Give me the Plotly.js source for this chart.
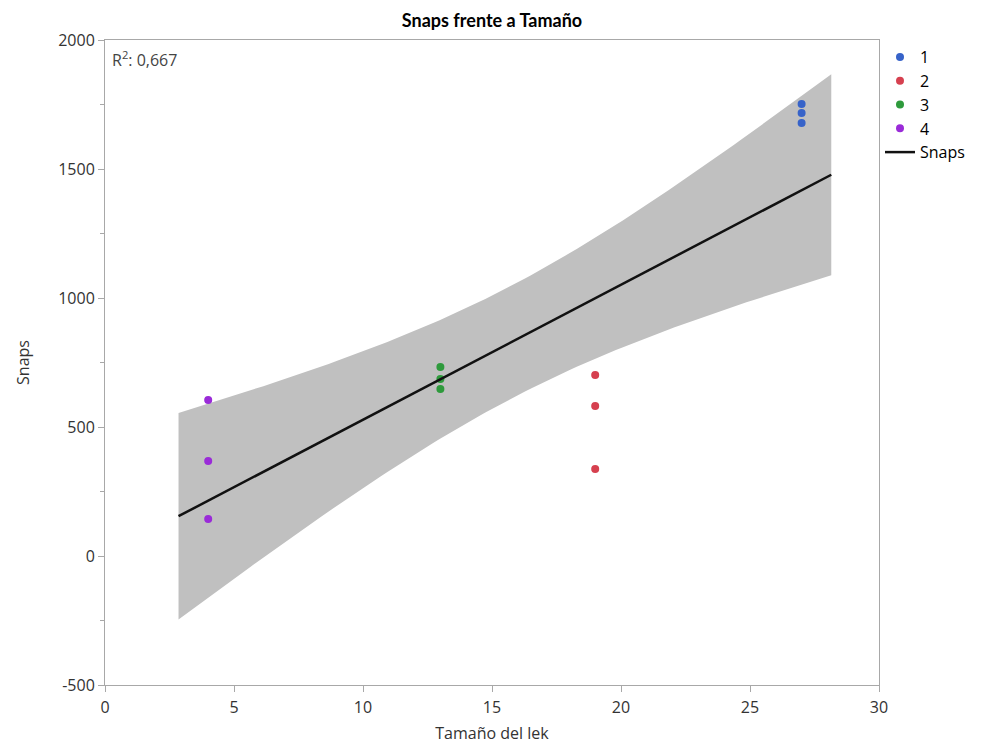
<!DOCTYPE html>
<html>
<head>
<meta charset="utf-8">
<script src="https://cdn.plot.ly/plotly-3.0.1.min.js"></script>
<style>html,body{margin:0;padding:0;background:#fff;}#chart{width:981px;height:744px;}</style>
</head>
<body>
<div id="chart"></div>
<script>
// Data
const groups = ["1", "2", "3", "4"];
const groupColors = ["#3763C9", "#D6404F", "#2E9A3C", "#9A2BD8"];
const tamano = [
  [27, 27, 27],
  [19, 19, 19],
  [13, 13, 13],
  [4, 4, 4]
];
const snaps = [
  [1752, 1717, 1678],
  [702, 581, 337],
  [733, 686, 647],
  [605, 368, 143]
];
const yTickVals = [-500, 0, 500, 1000, 1500, 2000];
const yTickText = ["-500", "0", "500", "1000", "1500", "2000"];
const r2Label = "R<sup>2</sup>: 0,667";
const tCrit = 2.228; // t(0.975, df = 10)

// Linear fit with 95% confidence band of the mean
const xs = [].concat(...tamano);
const ys = [].concat(...snaps);
const n = xs.length;
const mx = xs.reduce((a, b) => a + b, 0) / n;
const my = ys.reduce((a, b) => a + b, 0) / n;
let sxx = 0, sxy = 0;
for (let i = 0; i < n; i++) { sxx += (xs[i] - mx) ** 2; sxy += (xs[i] - mx) * (ys[i] - my); }
const slope = sxy / sxx;
const icpt = my - slope * mx;
let sse = 0;
for (let i = 0; i < n; i++) sse += (ys[i] - icpt - slope * xs[i]) ** 2;
const s = Math.sqrt(sse / (n - 2));
const xmin = Math.min(...xs), xmax = Math.max(...xs);
const pad = 0.05 * (xmax - xmin);
const fx = [], fy = [], up = [], lo = [];
const steps = 100;
for (let k = 0; k <= steps; k++) {
  const x = xmin - pad + (xmax - xmin + 2 * pad) * k / steps;
  const y = icpt + slope * x;
  const h = tCrit * s * Math.sqrt(1 / n + (x - mx) ** 2 / sxx);
  fx.push(x); fy.push(y); up.push(y + h); lo.push(y - h);
}

const traces = [];
traces.push({
  x: fx.concat(fx.slice().reverse()),
  y: up.concat(lo.slice().reverse()),
  type: "scatter", mode: "lines", fill: "toself",
  fillcolor: "rgb(192,192,192)", line: { width: 0, color: "rgba(0,0,0,0)" },
  showlegend: false, hoverinfo: "skip"
});
groups.forEach((g, i) => {
  traces.push({
    x: tamano[i], y: snaps[i], type: "scatter", mode: "markers", name: g,
    marker: { color: groupColors[i], size: 8 }
  });
});
traces.push({
  x: fx, y: fy, type: "scatter", mode: "lines", name: "Snaps",
  line: { color: "#111111", width: 2.5 }
});

const FONT = "Open Sans, sans-serif";
const axisCommon = {
  showgrid: false, zeroline: false, showline: true, mirror: true,
  linecolor: "#A8A8A8", linewidth: 1, ticks: "outside", tickcolor: "#A8A8A8",
  ticklen: 6, tickfont: { family: FONT, size: 16, color: "#333" }
};

const layout = {
  width: 981, height: 744,
  margin: { l: 105, r: 101, t: 40, b: 59 },
  paper_bgcolor: "#fff", plot_bgcolor: "#fff",
  font: { family: FONT, color: "#333" },
  title: { text: "<b>Snaps frente a Tamaño</b>", x: 0.5, xanchor: "center", xref: "paper",
           y: 0.98, yanchor: "top", font: { size: 18, color: "#000", family: "Lato, sans-serif" } },
  xaxis: Object.assign({}, axisCommon, {
    range: [0, 30], dtick: 5, tick0: 0, ticklabelstandoff: 2,
    title: { text: "Tamaño del lek", font: { size: 16, color: "#333" }, standoff: 11 }
  }),
  yaxis: Object.assign({}, axisCommon, {
    range: [-500, 2000], tickmode: "array", tickvals: yTickVals, ticktext: yTickText,
    minor: { dtick: 250, tick0: 0, ticks: "outside", ticklen: 4, tickcolor: "#A8A8A8", showgrid: false },
    title: { text: "Snaps", font: { size: 16, color: "#333" }, standoff: 24 }
  }),
  legend: {
    x: 1.0, xanchor: "left", y: 1.0, yanchor: "top",
    font: { size: 16, color: "#000", family: FONT }, tracegroupgap: 0, itemwidth: 30,
    bgcolor: "rgba(0,0,0,0)"
  },
  annotations: [{
    text: r2Label, xref: "paper", yref: "paper", x: 0, y: 1, xanchor: "left", yanchor: "top",
    xshift: 5, yshift: -5, showarrow: false, font: { size: 16, color: "#444", family: FONT }
  }],
  showlegend: true
};

Plotly.newPlot("chart", traces, layout, { displayModeBar: false, staticPlot: true });
</script>
</body>
</html>
